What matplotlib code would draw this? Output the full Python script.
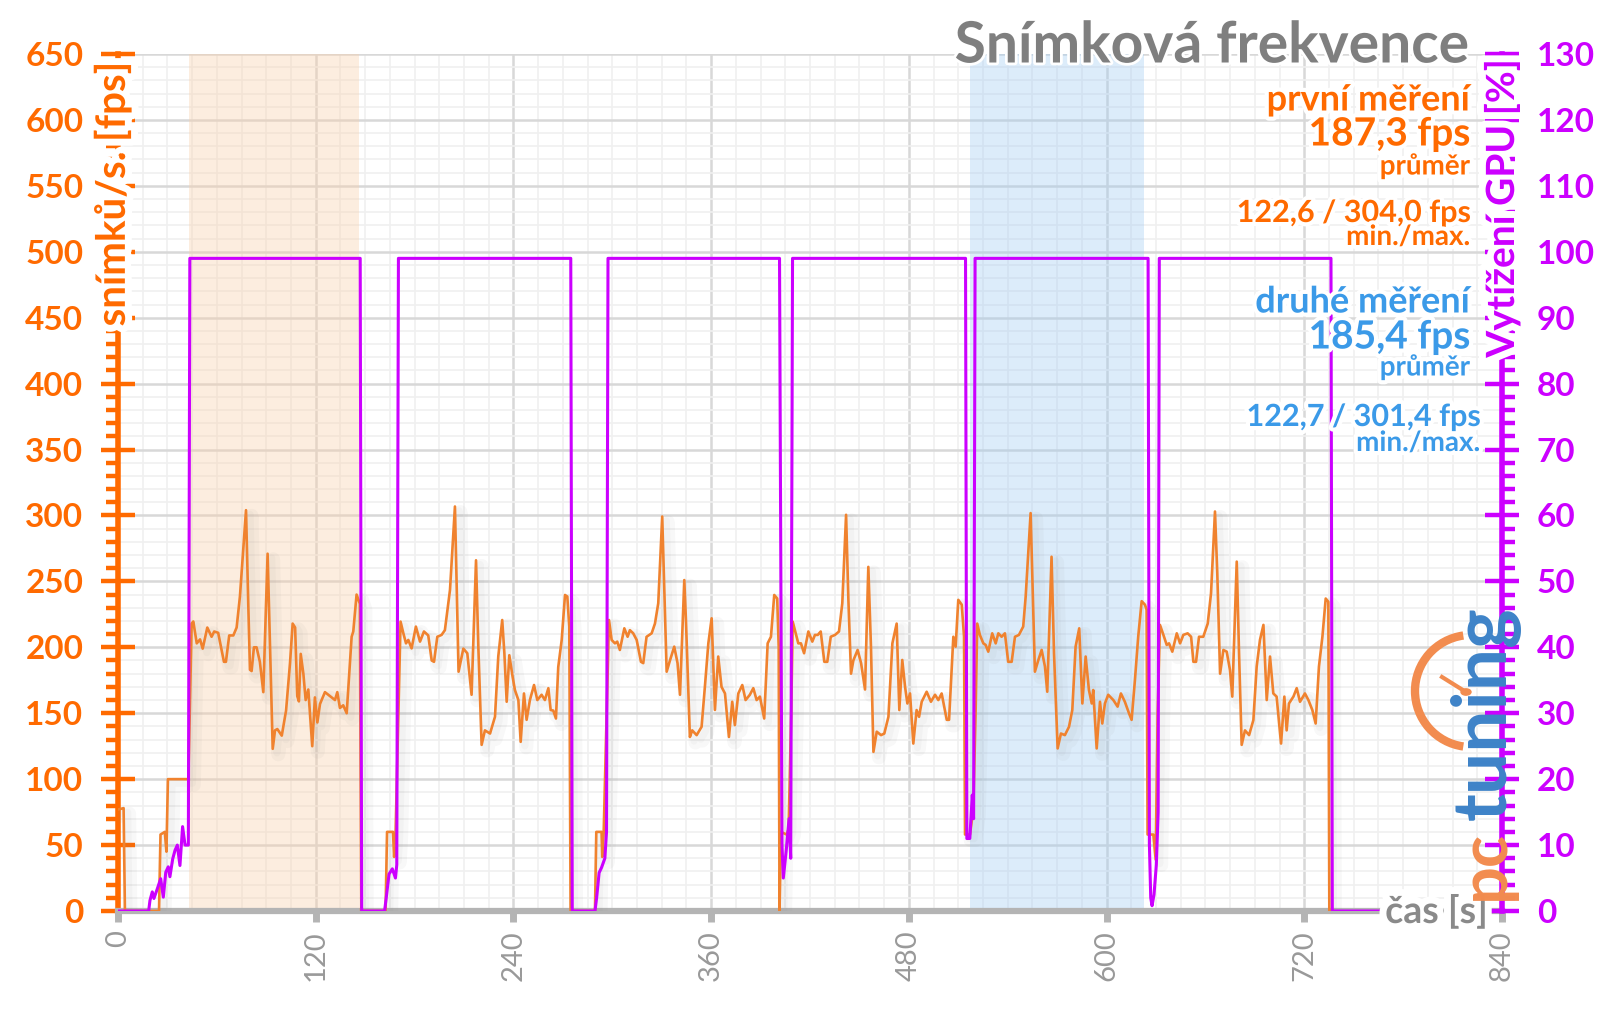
import matplotlib
matplotlib.use("Agg")
import matplotlib.pyplot as plt
import matplotlib.patheffects as pe
from matplotlib.ticker import MultipleLocator
from matplotlib.patches import Arc, Circle
from matplotlib.lines import Line2D

# ---------------- data ----------------
time_s = [
    0, 3.4, 4.2, 24.9, 25.8, 28.4, 29.4, 30.3, 42.7,
    # run 1
    44.7, 45.7, 47.8, 49.8, 51.4, 54.2, 56.8, 58.4, 60.8, 64.3, 65.5, 67.5, 70.0, 72.0, 74.0, 77.7,
    79.1, 80.1, 81.1, 82.5, 84.1, 86.1, 88.2, 90.8, 93.9, 95.3, 96.7, 99.4, 102.0, 104.4, 106.0,
    107.5, 108.8, 109.8, 110.9, 112.5, 113.9, 115.5, 117.9, 119.5, 121.0, 122.6, 125.6, 128.7,
    131.7, 133.1, 134.7, 136.7, 138.8, 141.8, 142.8, 144.8, 146.8, 147.6,
    162.4, 163.3, 166.9, 167.6, 168.5,
    # run 2
    171.5, 173.2, 174.8, 176.2, 178.2, 180.8, 183.3, 185.7, 188.3, 190.4, 191.8, 193.8, 196.4,
    198.4, 201.5, 204.5, 205.5, 206.7, 209.6, 212.0, 214.6, 217.3, 218.7, 220.7, 222.7, 225.8,
    228.8, 230.8, 233.2, 234.5, 235.9, 237.5, 239.5, 240.9, 243.0, 244.4, 246.4, 248.0, 250.0,
    252.5, 254.5, 257.1, 259.1, 261.2, 262.6, 264.2, 265.8, 267.2, 269.3, 271.3, 272.7, 273.9, 274.7,
    289.5, 290.3, 293.5, 293.9, 294.8,
    # run 3
    298.0, 299.6, 301.6, 303.0, 304.6, 307.3, 309.3, 310.7, 312.7, 314.8, 317.4, 318.8, 320.8,
    323.9, 325.9, 327.9, 330.3, 331.5, 333.0, 335.0, 337.6, 339.6, 341.1, 343.7, 344.7, 347.1,
    348.5, 351.2, 354.2, 356.2, 358.3, 360.3, 362.3, 364.3, 366.3, 368.4, 370.8, 372.8, 374.4,
    376.5, 378.9, 380.9, 383.5, 385.6, 387.6, 389.6, 392.2, 394.3, 396.3, 398.3, 400.1, 401.0, 401.5,
    402.4, 405.8, 407.0, 408.6,
    # run 4
    409.5, 411.3, 412.9, 414.5, 416.4, 419.0, 421.4, 423.0, 424.7, 426.5, 428.7, 430.5, 432.6,
    435.2, 437.6, 439.6, 441.9, 443.3, 444.9, 446.3, 448.9, 451.0, 453.4, 455.4, 457.0, 458.5,
    460.5, 463.1, 465.1, 467.6, 470.0, 472.6, 474.2, 476.0, 477.7, 479.1, 480.7, 482.7, 484.7,
    486.2, 487.8, 490.8, 493.4, 495.9, 497.9, 499.9, 503.0, 504.4, 507.0, 508.4, 510.0, 512.1, 513.5,
    514.1, 517.1, 519.1, 520.5,
    # run 5
    521.5, 523.1, 525.2, 526.6, 528.2, 530.6, 532.7, 534.3, 536.3, 538.3, 540.3, 542.4, 544.4,
    546.8, 549.4, 550.9, 553.9, 554.9, 556.5, 558.5, 560.6, 562.6, 564.0, 566.6, 568.1, 570.3,
    572.3, 574.7, 577.2, 579.2, 581.2, 583.4, 585.3, 587.3, 589.3, 591.0, 591.9, 594.0, 596.0,
    597.4, 599.0, 601.0, 604.1, 606.7, 608.7, 611.1, 613.6, 615.2, 617.2, 619.2, 621.3, 623.3, 624.3,
    624.9, 628.4, 629.8, 631.0,
    # run 6
    632.4, 634.5, 636.5, 637.9, 639.9, 642.6, 644.6, 646.6, 649.2, 651.3, 652.7, 654.3, 656.1,
    658.7, 661.4, 663.4, 665.8, 667.2, 668.9, 670.9, 672.9, 674.9, 676.3, 679.0, 680.4, 682.0,
    684.0, 686.5, 689.1, 691.1, 693.1, 695.2, 697.2, 699.2, 701.2, 703.2, 705.9, 707.9, 709.3,
    710.7, 713.4, 715.4, 717.4, 720.4, 722.5, 724.9, 726.9, 728.9, 731.0, 733.0, 734.6, 735.2, 737.0,
]
fps = [
    77, 78, 0, 0, 58, 60, 45, 100, 100,
    # run 1
    218, 219.6, 203, 206, 199, 215, 208, 212, 211, 189, 189, 209, 209, 215, 238.5, 304.0,
    231, 183, 182, 200, 200, 189, 166, 271, 123, 137, 138, 133, 152, 188, 218,
    215, 163, 159, 195, 180, 160, 168, 125, 162, 143, 157, 166, 163,
    160, 166, 154, 156, 150, 208, 212, 240, 233, 0,
    0, 60, 60, 41, 60,
    # run 2
    219.5, 210.6, 203, 205.6, 199.2, 215.7, 204.3, 212, 209, 190, 189, 208, 209.4,
    213, 243.5, 306.8, 251, 181.5, 199, 195.5, 164, 266, 200.5, 126, 137, 134.6,
    147.3, 193, 220.7, 195.5, 158.7, 194, 177.7, 167.6, 160, 128.3, 165, 145, 160,
    171.4, 160, 164, 160, 169, 152.4, 152, 146, 185, 205.6, 239.7, 238.5, 215.7, 0,
    0, 60, 60, 41, 60,
    # run 3
    220.7, 205.6, 203, 204.3, 198, 214.4, 208, 213, 210.6, 205.6, 189, 188, 208,
    210.6, 218, 233.4, 299.2, 246, 181.5, 190, 200.5, 188, 164, 251, 220.7, 132,
    137, 133.4, 139.7, 170, 203, 222, 152.5, 193, 170, 165, 132, 158.7, 141,
    165, 171.4, 160, 164, 169, 160, 162.6, 146, 203, 208, 239.7, 237, 200, 0,
    60, 58, 62, 150,
    # run 4
    219.5, 210.6, 203, 203, 195.5, 212, 204.3, 209.4, 209.4, 212, 189, 189, 208,
    209.4, 212, 233.4, 300.5, 236, 180, 190, 198, 188, 168, 261, 200.5, 120.7,
    136, 133.4, 134.6, 147.3, 203, 218, 152.4, 190.4, 170, 157.4, 165, 127, 152.4,
    147.3, 158.7, 166.3, 158.7, 164, 160, 165, 145, 145, 208, 200.5, 236, 232.3, 208,
    58, 58, 77, 150,
    # run 5
    218, 209.4, 203, 201.8, 196.7, 210.6, 203, 210.6, 208, 210.6, 189, 189, 208,
    209.4, 215.7, 238.5, 301.8, 256, 181.5, 190, 198, 185.4, 166.3, 268.7, 195.5, 123.3,
    134.6, 133.4, 139.7, 152.4, 200.5, 214.4, 157.4, 193, 167.6, 157.4, 167.6, 123.3, 158.7,
    142.2, 157.4, 164, 160, 155, 165, 158.7, 150, 145, 175, 208, 235, 232.3, 228.5,
    58, 58, 39, 150,
    # run 6
    217, 209.4, 201.8, 203, 196.7, 210.6, 203, 209.4, 210.6, 208, 189, 189, 208,
    208, 218, 241, 303, 256, 180, 198, 196.7, 182.8, 162.6, 265, 195.5, 126,
    137, 133.4, 144.8, 185.4, 205.6, 217, 160, 193, 165, 162.6, 127, 162.6, 137,
    157.4, 162.6, 169, 158.7, 165, 160, 152.4, 142.2, 185.4, 208, 237, 234.5, 0, 0,
]

gpu_time_s = [
    0, 18.6, 19.4, 20.8, 21.8, 23.9, 25.9, 27.5, 29.0, 30.5, 31.5, 33.2, 34.6, 36.0, 37.6, 39.2,
    40.7, 42.7, 43.6, 147.0, 147.9,
    161.8, 162.8, 164.5, 166.5, 168.4, 169.2, 170.2, 274.8, 275.7,
    289.5, 290.5, 292.0, 293.5, 295.5, 296.5, 297.4, 401.5, 403.0, 403.8, 405.5, 407.3, 408.3,
    409.4, 514.4, 515.2, 517.0, 518.5, 519.3, 520.2, 625.2, 626.0, 626.8, 627.6, 628.8, 630.2,
    631.3, 632.0, 736.2, 737.0, 767.5,
]
gpu_load = [
    0, 0, 1.6, 2.9, 1.9, 3.4, 4.9, 2.1, 5.9, 6.7, 5.2, 7.9, 9.2, 10.0, 6.9, 12.8,
    10.0, 10.0, 99, 99, 0,
    0, 2, 5.6, 6.4, 5.0, 7, 99, 99, 0,
    0, 2, 5.8, 6.6, 8.0, 12, 99, 99, 10, 5.0, 9, 14, 8,
    99, 99, 11, 11, 17.6, 14, 99, 99, 10, 2, 0.8, 2.5, 7,
    15, 99, 99, 0, 0,
]

first_span = (43, 146)
second_span = (517, 623)

x_ticks = [0, 120, 240, 360, 480, 600, 720, 840]

ORANGE = "#ff6a00"
FPS_LINE = "#f0822e"
PURPLE = "#cc00ff"
BLUE = "#3b9ae8"
GREY = "#8a8a8a"

plt.rcParams["font.family"] = ["Lato", "DejaVu Sans"]

W, H = 1600, 1009
fig = plt.figure(figsize=(W / 100, H / 100), dpi=100)
L, R, T, B = 118, 1502, 54, 911
ax = fig.add_axes([L / W, 1 - B / H, (R - L) / W, (B - T) / H])
ax2 = ax.twinx()


def fx(px):
    return px / W


def fy(py):
    return 1 - py / H


def halo(lw=9):
    return [pe.withStroke(linewidth=lw, foreground="white")]


ax.set_xlim(0, 840)
ax.set_ylim(0, 650)
ax2.set_ylim(0, 130)

# grid
ax.set_axisbelow(True)
ax.xaxis.set_major_locator(MultipleLocator(120))
ax.xaxis.set_minor_locator(MultipleLocator(15))
ax.yaxis.set_major_locator(MultipleLocator(50))
ax.yaxis.set_minor_locator(MultipleLocator(10))
ax2.yaxis.set_major_locator(MultipleLocator(10))
ax2.yaxis.set_minor_locator(MultipleLocator(2))
ax.grid(which="major", color="#d8d8d8", lw=1.8, zorder=0)
ax.grid(which="minor", color="#f0f0f0", lw=1.2, zorder=0)

# highlighted spans
ax.axvspan(*first_span, facecolor="#f9d0ab", alpha=0.38, lw=0, zorder=1)
ax.axvspan(*second_span, facecolor="#9fcbf3", alpha=0.36, lw=0, zorder=1)

# fps line
ax.plot(time_s, fps, color=FPS_LINE, lw=1.9, zorder=3, solid_joinstyle="round",
        path_effects=[pe.SimpleLineShadow(offset=(4, -4), shadow_color="#888888", alpha=0.06, linewidth=10),
                      pe.SimpleLineShadow(offset=(3, -3), shadow_color="#888888", alpha=0.05, linewidth=5),
                      pe.Normal()])
# gpu line
ax2.plot(gpu_time_s, gpu_load, color=PURPLE, lw=2.2, zorder=3, solid_joinstyle="round")

# spines
for s in ["top", "right"]:
    ax.spines[s].set_visible(False)
ax.spines["left"].set_color(ORANGE)
ax.spines["left"].set_linewidth(4)
ax.spines["bottom"].set_color("#b4b4b4")
ax.spines["bottom"].set_linewidth(4.5)
for s in ["top", "left", "bottom"]:
    ax2.spines[s].set_visible(False)
ax2.spines["right"].set_color(PURPLE)
ax2.spines["right"].set_linewidth(4)

# ticks
ax.set_xticks(x_ticks)
ax.set_xticklabels([str(v) for v in x_ticks], rotation=90, color="#999999", fontsize=21)
ax.tick_params(axis="x", which="major", direction="out", length=8, width=5, color="#b4b4b4", pad=6)
ax.tick_params(axis="x", which="minor", length=0)
ax.tick_params(axis="y", which="major", direction="inout", length=24, width=3.2, color=ORANGE,
               labelcolor=ORANGE, labelsize=24, pad=13)
ax.tick_params(axis="y", which="minor", direction="out", length=9, width=3.2, color=ORANGE)
for lab in ax.get_yticklabels():
    lab.set_fontweight("bold")
ax2.tick_params(axis="y", which="major", direction="inout", length=24, width=3.2, color=PURPLE,
                labelcolor=PURPLE, labelsize=24, pad=13)
ax2.tick_params(axis="y", which="minor", direction="out", length=9, width=3.2, color=PURPLE)
for lab in ax2.get_yticklabels():
    lab.set_fontweight("bold")

# axis titles with white halos
ax2.text(-0.004, 0.991, "snímků/s. [fps]", transform=ax.transAxes, rotation=90, ha="center", va="top",
         color=ORANGE, fontsize=29, fontweight="bold", zorder=10, clip_on=False, path_effects=halo(10))
ax2.text(1.0, 0.994, "Vytížení GPU [%]", transform=ax.transAxes, rotation=90, ha="center", va="top",
         color=PURPLE, fontsize=28, fontweight="bold", zorder=10, clip_on=False, path_effects=halo(10))
ax2.text(0.99, 0.0, "čas [s]", transform=ax.transAxes, ha="right", va="center",
         color=GREY, fontsize=27, fontweight="bold", zorder=10, clip_on=False, path_effects=halo(10))

# title and annotations
fig.text(fx(1470), fy(46), "Snímková frekvence", ha="right", va="center", color="#7f7f7f",
         fontsize=41, fontweight="bold", path_effects=halo(4), zorder=20)

ann = [
    (1470, 100, "první měření", ORANGE, 26),
    (1470, 134, "187,3 fps", ORANGE, 28),
    (1470, 166, "průměr", ORANGE, 20),
    (1470, 213, "122,6 / 304,0 fps", ORANGE, 22),
    (1470, 237, "min./max.", ORANGE, 20),
    (1470, 302, "druhé měření", BLUE, 26),
    (1470, 337, "185,4 fps", BLUE, 28),
    (1470, 367, "průměr", BLUE, 20),
    (1480, 417, "122,7 / 301,4 fps", BLUE, 22),
    (1480, 443, "min./max.", BLUE, 20),
]
for px, py, s, c, fs in ann:
    fig.text(fx(px), fy(py), s, ha="right", va="center", color=c, fontsize=fs,
             fontweight="bold", path_effects=halo(6), zorder=20)

# logo (pctuning)
logo_orange = "#f28c4f"
logo_blue = "#3e83c8"
fig.text(fx(1485), fy(900), "pc", rotation=90, ha="center", va="bottom", color=logo_orange,
         fontsize=48, fontweight="bold", zorder=15)
fig.text(fx(1485), fy(820), "tuning", rotation=90, ha="center", va="bottom", color=logo_blue,
         fontsize=54, fontweight="bold", zorder=15)
r = 56
fig.patches.append(Arc((fx(1471), fy(691)), 2 * r / W, 2 * r / H, theta1=95, theta2=265,
                       transform=fig.transFigure, color=logo_orange, lw=6, zorder=15))
fig.lines.append(Line2D([fx(1442), fx(1466)], [fy(677), fy(692)], transform=fig.transFigure,
                        color=logo_orange, lw=3, zorder=15))
fig.patches.append(Circle((fx(1466), fy(692)), 5 / W, transform=fig.transFigure,
                          color=logo_orange, zorder=15))

fig.savefig("out.png", dpi=100)
